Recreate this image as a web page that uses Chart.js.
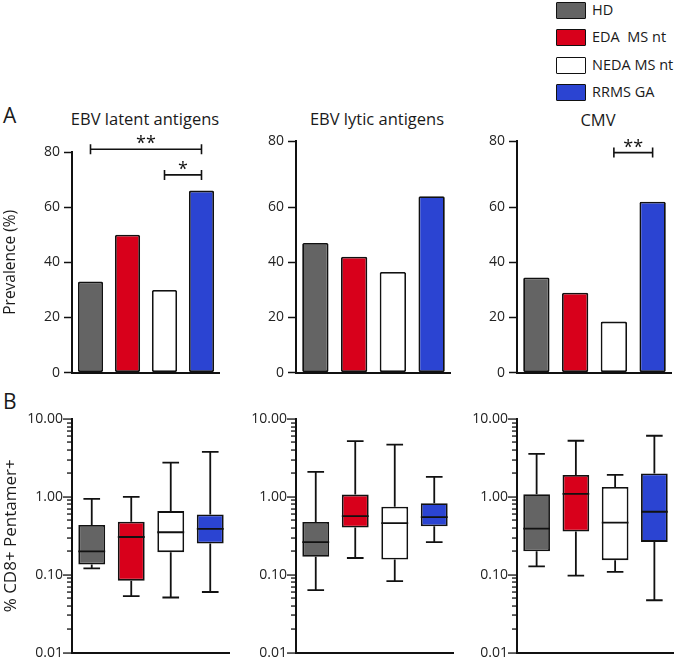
<!DOCTYPE html>
<html>
<head>
<meta charset="utf-8">
<script src="https://cdn.jsdelivr.net/npm/chart.js@4.4.0/dist/chart.umd.min.js"></script>
<style>
html, body { margin: 0; padding: 0; overflow: hidden; background: #fff; }
#fig { position: relative; width: 675px; height: 661px; overflow: hidden; font-family: "Open Sans", sans-serif; color: #1a1a1a; }
#fig canvas { position: absolute; }
.lbl { position: absolute; white-space: nowrap; line-height: 20px; }
.ttl { font-size: 16.5px; transform: translateX(-50%); }
.panel { font-size: 21px; }
.lg { position: absolute; left: 556px; font-size: 14.5px; }
.lg span.sw { position: absolute; left: 0; top: 0; width: 28px; height: 15px; border: 1.5px solid #111; border-radius: 1px; }
.lg span.tx { position: absolute; left: 36px; top: -2px; white-space: pre; line-height: 20px; }
</style>
</head>
<body>
<div id="fig">
  <div class="lbl panel" style="left:3px;top:105px">A</div>
  <div class="lbl panel" style="left:3px;top:391px">B</div>
  <div class="lbl ttl" style="left:145px;top:109px">EBV latent antigens</div>
  <div class="lbl ttl" style="left:377px;top:109px">EBV lytic antigens</div>
  <div class="lbl ttl" style="left:598px;top:110px">CMV</div>
  <div id="legend"></div>
  <canvas id="a1" width="235" height="260" style="left:0;top:125px"></canvas>
  <canvas id="a2" width="215" height="260" style="left:246px;top:125px"></canvas>
  <canvas id="a3" width="208" height="260" style="left:467px;top:125px"></canvas>
  <canvas id="b1" width="240" height="275" style="left:0;top:395px"></canvas>
  <canvas id="b2" width="215" height="275" style="left:246px;top:395px"></canvas>
  <canvas id="b3" width="208" height="275" style="left:467px;top:395px"></canvas>
</div>
<script>
// groups and colours
var groups = ['HD', 'EDA  MS nt', 'NEDA MS nt', 'RRMS GA'];
var groupColors = ['#646464', '#d8001b', '#ffffff', '#2b44d2'];

// A: prevalence (%)
var prevLatent = [33, 50, 30, 66];
var prevLytic = [47, 42, 36.5, 64];
var prevCmv = [34.5, 29, 18.5, 62];
var prevTickLabels = ['0', '20', '40', '60', '80'];

// significance brackets: [from group, to group, height (%), stars]
var sigLatent = [[0, 3, 81, '**'], [2, 3, 71.7, '*']];
var sigLytic = [];
var sigCmv = [[2, 3, 79.8, '**']];

// B: % CD8+ Pentamer+, per group [min, q1, median, q3, max]
var boxLatent = [[0.121, 0.135, 0.20, 0.435, 0.94], [0.053, 0.084, 0.305, 0.48, 1.0], [0.051, 0.195, 0.351, 0.656, 2.76], [0.06, 0.252, 0.387, 0.595, 3.78]];
var boxLytic = [[0.0635, 0.17, 0.262, 0.475, 2.1], [0.164, 0.403, 0.566, 1.07, 5.2], [0.083, 0.157, 0.461, 0.746, 4.68], [0.262, 0.42, 0.55, 0.83, 1.81]];
var boxCmv = [[0.128, 0.20, 0.391, 1.08, 3.56], [0.0975, 0.358, 1.09, 1.91, 5.26], [0.109, 0.154, 0.467, 1.34, 1.92], [0.047, 0.264, 0.644, 2.0, 6.09]];

Chart.defaults.font.family = '"Open Sans", sans-serif';
Chart.defaults.color = '#222';

// legend
var lg = document.getElementById('legend');
groups.forEach(function (g, i) {
  var d = document.createElement('div');
  d.className = 'lg';
  d.style.top = (2 + i * 27.4) + 'px';
  d.innerHTML = '<span class="sw" style="background:' + groupColors[i] + '"></span><span class="tx"></span>';
  d.lastChild.textContent = g;
  lg.appendChild(d);
});

var ink = '#111';

// plain L-shaped axes, drawn last
var axisPlugin = {
  id: 'axes',
  afterDraw: function (chart) {
    var a = chart.chartArea, ctx = chart.ctx;
    var x = Math.round(a.left), y = Math.round(a.bottom), top = Math.round(a.top);
    ctx.save();
    ctx.fillStyle = ink;
    ctx.fillRect(x - 1, top - 1, 2, y - top + 2);
    ctx.fillRect(x - 1, y - 1, Math.round(a.right) - x + 1, 2);
    ctx.restore();
  }
};

var bracketPlugin = {
  id: 'brackets',
  afterDraw: function (chart, args, opts) {
    var list = opts.list || [];
    var ctx = chart.ctx, xs = chart.scales.x, ys = chart.scales.y;
    list.forEach(function (b) {
      var x1 = xs.getPixelForValue(b[0]), x2 = xs.getPixelForValue(b[1]), y = ys.getPixelForValue(b[2]);
      ctx.save();
      ctx.strokeStyle = ink;
      ctx.lineWidth = 1.6;
      ctx.beginPath();
      ctx.moveTo(x1, y); ctx.lineTo(x2, y);
      ctx.moveTo(x1, y - 5); ctx.lineTo(x1, y + 5);
      ctx.moveTo(x2, y - 5); ctx.lineTo(x2, y + 5);
      ctx.stroke();
      ctx.fillStyle = ink;
      ctx.font = '18px "Open Sans"';
      ctx.textAlign = 'center';
      ctx.textBaseline = 'alphabetic';
      ctx.fillText(b[3], (x1 + x2) / 2, y);
      ctx.restore();
    });
  }
};

var whiskerPlugin = {
  id: 'whiskers',
  afterDatasetsDraw: function (chart, args, opts) {
    var stats = opts.stats;
    if (!stats) return;
    var meta = chart.getDatasetMeta(0), ys = chart.scales.y, ctx = chart.ctx;
    ctx.save();
    ctx.strokeStyle = ink;
    ctx.lineWidth = 1.8;
    stats.forEach(function (s, i) {
      var bar = meta.data[i];
      var x = bar.x, w = bar.width, cap = w * 0.62;
      var yMin = ys.getPixelForValue(s[0]), yQ1 = ys.getPixelForValue(s[1]);
      var yMed = ys.getPixelForValue(s[2]), yQ3 = ys.getPixelForValue(s[3]), yMax = ys.getPixelForValue(s[4]);
      ctx.beginPath();
      ctx.moveTo(x, yQ3); ctx.lineTo(x, yMax);
      ctx.moveTo(x - cap / 2, yMax); ctx.lineTo(x + cap / 2, yMax);
      ctx.moveTo(x, yQ1); ctx.lineTo(x, yMin);
      ctx.moveTo(x - cap / 2, yMin); ctx.lineTo(x + cap / 2, yMin);
      ctx.moveTo(x - w / 2, yMed); ctx.lineTo(x + w / 2, yMed);
      ctx.stroke();
    });
    ctx.restore();
  }
};

function isMajor(v) {
  var l = Math.log10(v);
  return Math.abs(l - Math.round(l)) < 1e-6;
}

// log axis tick marks: long at decades, short in between
var logTickPlugin = {
  id: 'logTicks',
  afterDraw: function (chart) {
    var ys = chart.scales.y;
    if (ys.type !== 'logarithmic') return;
    var ctx = chart.ctx, x0 = Math.round(chart.chartArea.left);
    ctx.save();
    ctx.fillStyle = ink;
    ys.ticks.forEach(function (t) {
      var y = Math.round(ys.getPixelForValue(t.value));
      var len = isMajor(t.value) ? 9 : 5;
      ctx.fillRect(x0 - len, y - 0.6, len, 1.3);
    });
    ctx.restore();
  }
};

function xAxis() {
  return {
    offset: true,
    grid: { display: false },
    border: { display: false },
    ticks: { display: false },
    afterFit: function (s) { s.height = 0; }
  };
}

function yTitle(text, size) {
  return { display: !!text, text: text, color: '#1a1a1a', font: { size: size }, padding: { top: 1, bottom: 0 } };
}

function barPanel(id, values, yTop, brackets, title, yWidth, pad) {
  new Chart(document.getElementById(id), {
    type: 'bar',
    data: {
      labels: groups,
      datasets: [{
        data: values,
        backgroundColor: groupColors,
        borderColor: ink,
        borderWidth: 1.8,
        borderSkipped: false,
        borderRadius: 1.5,
        barPercentage: 0.68,
        categoryPercentage: 1
      }]
    },
    options: {
      responsive: false,
      animation: false,
      layout: { padding: pad },
      plugins: { legend: { display: false }, tooltip: { enabled: false }, brackets: { list: brackets } },
      scales: {
        x: xAxis(),
        y: {
          min: 0,
          max: yTop,
          border: { display: false },
          grid: { drawOnChartArea: false, tickLength: 8, tickWidth: 1.5, tickColor: ink },
          ticks: {
            font: { size: 14 },
            padding: 4,
            callback: function (v, i) { return prevTickLabels[i]; }
          },
          // the reference places its top tick at yTop
          afterBuildTicks: function (s) { s.ticks = [0, 20, 40, 60, yTop].map(function (v) { return { value: v }; }); },
          afterFit: function (s) { s.width = yWidth; },
          title: yTitle(title, 15.5)
        }
      }
    },
    plugins: [axisPlugin, bracketPlugin]
  });
}

function boxPanel(id, stats, title, yWidth, pad) {
  var tickVals = [];
  [0.01, 0.1, 1].forEach(function (d) {
    for (var k = 1; k < 10; k++) tickVals.push(d * k);
  });
  tickVals.push(10);
  new Chart(document.getElementById(id), {
    type: 'bar',
    data: {
      labels: groups,
      datasets: [{
        data: stats.map(function (s) { return [s[1], s[3]]; }),
        backgroundColor: groupColors,
        borderColor: ink,
        borderWidth: 1.8,
        borderSkipped: false,
        barPercentage: 0.68,
        categoryPercentage: 1
      }]
    },
    options: {
      responsive: false,
      animation: false,
      layout: { padding: pad },
      plugins: { legend: { display: false }, tooltip: { enabled: false }, whiskers: { stats: stats } },
      scales: {
        x: xAxis(),
        y: {
          type: 'logarithmic',
          min: 0.01,
          max: 10,
          border: { display: false },
          grid: { drawOnChartArea: false, drawTicks: false },
          ticks: {
            autoSkip: false,
            font: { size: 14 },
            padding: 9,
            callback: function (v) { return isMajor(v) ? v.toFixed(2) : ''; }
          },
          afterBuildTicks: function (s) { s.ticks = tickVals.map(function (v) { return { value: v }; }); },
          afterFit: function (s) { s.width = yWidth; },
          title: yTitle(title, 17)
        }
      }
    },
    plugins: [axisPlugin, whiskerPlugin, logTickPlugin]
  });
}

barPanel('a1', prevLatent, 80, sigLatent, 'Prevalence (%)', 72, { top: 27, right: 15, bottom: 11, left: 0 });
barPanel('a2', prevLytic, 84, sigLytic, '', 50, { top: 16, right: 10, bottom: 11, left: 0 });
barPanel('a3', prevCmv, 84, sigCmv, '', 50, { top: 16, right: 3, bottom: 11, left: 0 });

boxPanel('b1', boxLatent, '% CD8+ Pentamer+', 72, { top: 24, right: 10, bottom: 15, left: 0 });
boxPanel('b2', boxLytic, '', 50, { top: 24, right: 7, bottom: 15, left: 0 });
boxPanel('b3', boxCmv, '', 50, { top: 24, right: 1, bottom: 15, left: 0 });
</script>
</body>
</html>
